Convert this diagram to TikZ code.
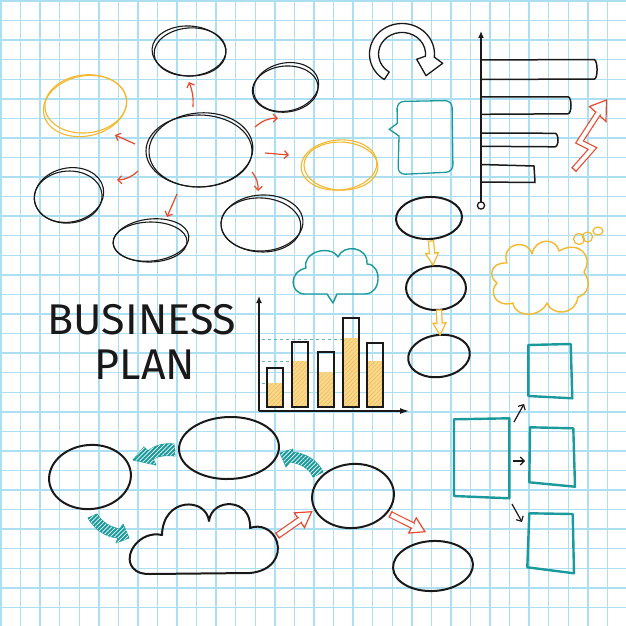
\documentclass[tikz,border=0pt]{standalone}
\usepackage{fontspec}
\setmainfont{Fira Sans}
\usetikzlibrary{calc,patterns,patterns.meta,arrows.meta,shapes.geometric}
\definecolor{gridc}{RGB}{172,223,241}
\definecolor{ink}{RGB}{25,25,25}
\definecolor{redc}{RGB}{234,72,44}
\definecolor{yel}{RGB}{244,184,46}
\definecolor{tealc}{RGB}{26,154,156}
\definecolor{barfill}{RGB}{249,216,140}
\definecolor{barhatch}{RGB}{236,188,86}
\newcommand\hollowarr[7]{%
  \coordinate (ha) at #2;
  \coordinate (hb) at #3;
  \coordinate (hc) at ($(hb)!#6!(ha)$);
  \filldraw[#1, fill=white, line join=miter] ($(hc)!#5!90:(ha)$) -- (hb) -- ($(hc)!#5!-90:(ha)$) -- cycle;
  \draw[#1, double=white, double distance=#4] (ha) -- ($(hc)!-1.2pt!(ha)$);
  \draw[#1] ($(ha)!#7!90:(hb)$) -- ($(ha)!#7!-90:(hb)$);
}
\begin{document}
\begin{tikzpicture}[x=1pt,y=-1pt,
  gridl/.style={draw=gridc, line width=1.4pt},
  sk/.style={draw=ink, line width=1.1pt},
  sky/.style={draw=yel, line width=1.1pt},
  skoval/.style={ellipse, draw=ink, line width=1.1pt, inner sep=0pt},
  oval/.style={ellipse, draw=ink, line width=2pt, inner sep=0pt},
  mmarr/.style={draw=redc, line width=1.2pt, -{Straight Barb[length=4pt,width=8pt]}},
  karr/.style={draw=ink, line width=1.2pt, -{Straight Barb[length=4pt,width=8pt]}},
  tbox/.style={draw=tealc, line width=2.4pt, line join=round},
  redhol/.style={draw=redc, line width=1.2pt},
  yelhol/.style={draw=yel, line width=1.2pt},
  hatchT/.style={fill=tealc, draw=tealc, line width=0.8pt, line join=round,
    postaction={pattern={Lines[angle=45,distance=3pt,line width=0.7pt]}, pattern color=white}},
  hbar/.style={draw=ink, line width=1.5pt, line join=round},
  vbar/.style={draw=ink, line width=1.5pt},
  dashl/.style={draw=tealc!70, line width=0.9pt, dash pattern=on 3pt off 3pt},
  title/.style={font=\fontsize{43}{43}\selectfont, text=ink, inner sep=0pt}
]
\useasboundingbox (0,0) rectangle (626,626);
\fill[white] (0,0) rectangle (626,626);
% grid
\foreach \k in {0,...,32}{
  \draw[gridl] ({1+19.5625*\k},0) -- ({1+19.5625*\k},626);
  \draw[gridl] (0,{1+19.5625*\k}) -- (626,{1+19.5625*\k});
}

% ===== mind map (top left) =====
\node[skoval, minimum width=106pt, minimum height=72pt] (m0) at (199,151) {};
\draw[sk, rotate around={4:(m0)}] ($(m0)+(2,-1)$) ellipse [x radius=52, y radius=37];
\node[skoval, minimum width=74pt, minimum height=50pt, rotate=-3] (m1) at (189,51) {};
\draw[sk, rotate around={4:(m1)}] ($(m1)+(1,1)$) ellipse [x radius=36, y radius=24];
\node[skoval, minimum width=66pt, minimum height=48pt, rotate=12] (m2) at (286,87) {};
\draw[sk, rotate around={6:(m2)}] ($(m2)+(-1,2)$) ellipse [x radius=33, y radius=23];
\node[skoval, draw=yel, minimum width=76pt, minimum height=50pt, rotate=5] (m3) at (339,165) {};
\draw[sky, rotate around={-2:(m3)}] ($(m3)+(2,1)$) ellipse [x radius=37, y radius=24];
\node[skoval, minimum width=82pt, minimum height=56pt, rotate=3] (m4) at (262,223) {};
\draw[sk, rotate around={-3:(m4)}] ($(m4)+(-1,2)$) ellipse [x radius=40, y radius=27];
\node[skoval, minimum width=76pt, minimum height=42pt, rotate=6] (m5) at (151,240) {};
\draw[sk, rotate around={1:(m5)}] ($(m5)+(-1,2)$) ellipse [x radius=37, y radius=20];
\node[skoval, minimum width=70pt, minimum height=54pt, rotate=12] (m6) at (69,195) {};
\draw[sk, rotate around={4:(m6)}] ($(m6)+(-1,2)$) ellipse [x radius=34, y radius=26];
\node[skoval, draw=yel, minimum width=84pt, minimum height=60pt, rotate=12] (m7) at (85,106) {};
\draw[sky, rotate around={6:(m7)}] ($(m7)+(1,-2)$) ellipse [x radius=41, y radius=29];

\coordinate (a1s) at (193,107); \coordinate (a1e) at (189,82);
\coordinate (a2s) at (255,127); \coordinate (a2e) at (278,118);
\coordinate (a3s) at (265,153); \coordinate (a3e) at (289,155);
\coordinate (a4s) at (252,172); \coordinate (a4e) at (258,191);
\coordinate (a5s) at (177,194); \coordinate (a5e) at (167,217);
\coordinate (a6s) at (138,171); \coordinate (a6e) at (117,180);
\coordinate (a7s) at (135,144); \coordinate (a7e) at (115,135);
\draw[mmarr] (a1s) to[bend right=12] (a1e);
\draw[mmarr] (a2s) to[bend left=20] (a2e);
\draw[mmarr] (a3s) -- (a3e);
\draw[mmarr] (a4s) to[bend left=20] (a4e);
\draw[mmarr] (a5s) -- (a5e);
\draw[mmarr] (a6s) to[bend left=20] (a6e);
\draw[mmarr] (a7s) -- (a7e);

% ===== curly arrow =====
\draw[draw=ink, line width=1.3pt, fill=white, line join=round]
  (402,54) ++(123:32.5 and 30.5)
  arc[start angle=123, end angle=366, x radius=32.5, y radius=30.5]
  -- (442.7,63.3) -- (426,75.7) -- (416.7,59.3)
  -- (425.4,56.2)
  arc[start angle=366, end angle=123, x radius=23.5, y radius=21.5]
  -- cycle;

% ===== speech bubble (teal) =====
\draw[draw=tealc, line width=1.3pt] (389.3,129.3) -- (397.3,123.3) [rounded corners=7] -- (397,101.5) -- (452,100.5) -- (453,172) -- (398,174.5) [sharp corners] -- (399,136) -- cycle;

% ===== horizontal bar chart =====
\coordinate (hax0) at (481,201.5);
\coordinate (hax1) at (481,31);
\draw[draw=ink, line width=1.3pt, -{Latex[length=7pt,width=6pt]}] (hax0) -- (hax1);
\draw[draw=ink, line width=1.3pt] (481,205.5) circle [radius=3.6];
\draw[hbar] (481,60) -- (594,59.5) .. controls (598,60) and (598,78.5) .. (594.5,79) -- (482,79.5);
\draw[hbar] (481,97) -- (568,96.8) .. controls (572,97) and (572,113.5) .. (568,113.8) -- (482,114.3);
\draw[hbar] (482,133) -- (555,133.3) .. controls (559,133.5) and (559,146.5) .. (555,146.8) -- (482,146.3);
\draw[hbar] (481,164.5) -- (534,166) -- (535,182.5) -- (482,182);

% ===== red zigzag arrow =====
\coordinate (z0) at (574,169.5);
\coordinate (z1) at (592.5,148.5);
\coordinate (z2) at (579.5,142);
\coordinate (z3) at (598.4,113);
\filldraw[redhol, fill=white, line join=miter] (589.5,106.5) -- (606.5,100) -- (606,121.5) -- cycle;
\draw[redhol, double=white, double distance=4pt, line join=miter] (z0) -- (z1) -- (z2) -- (z3);
\draw[redhol] ($(z0)!3.2pt!90:(z1)$) -- ($(z0)!3.2pt!-90:(z1)$);

% ===== middle column =====
\node[oval, minimum width=66pt, minimum height=42pt, rotate=3] (c1) at (429,218) {};
\node[oval, minimum width=60pt, minimum height=44pt] (c2) at (436,288) {};
\node[oval, minimum width=62pt, minimum height=42pt, rotate=8] (c3) at (439,356) {};
\coordinate (y1t) at (431,241); \coordinate (y1h) at (433,265);
\coordinate (y2t) at (439,310); \coordinate (y2h) at (440,335);
\hollowarr{yelhol}{(y1t)}{(y1h)}{4pt}{6.5pt}{12pt}{3.2pt}
\hollowarr{yelhol}{(y2t)}{(y2h)}{4pt}{6.5pt}{12pt}{3.2pt}

% ===== teal speech cloud =====
\draw[draw=tealc, line width=1.4pt, line join=round]
  (327,294) -- (305,294)
  .. controls (290,294) and (288,272) .. (306,268)
  .. controls (302,252) and (330,244) .. (338,257)
  .. controls (343,244) and (368,246) .. (367,264)
  .. controls (382,264) and (382,294) .. (365,294)
  -- (337,294) -- (333,303) -- cycle;

% ===== yellow thought cloud =====
\draw[draw=yel, line width=1.4pt, line join=round]
  (507,263)
  .. controls (500,243) and (528,238) .. (532,254)
  .. controls (535,238) and (556,237) .. (559,251)
  .. controls (578,240) and (594,255) .. (584,272)
  .. controls (592,283) and (588,294) .. (578,297)
  .. controls (575,316) and (552,316) .. (547,303)
  .. controls (540,318) and (515,318) .. (513,303)
  .. controls (496,308) and (488,292) .. (497,283)
  .. controls (488,277) and (490,262) .. (507,263) -- cycle;
\draw[draw=yel, line width=1.2pt] (579,239) circle [radius=5.5];
\draw[draw=yel, line width=1.2pt] (587.5,237) circle [radius=5];
\draw[draw=yel, line width=1.2pt] (598,231) ellipse [x radius=5, y radius=4];

% ===== vertical bar chart =====
\draw[dashl] (262,339) -- (343,339);
\draw[dashl] (262,361) -- (292,361);
\draw[dashl] (262,383) -- (267,383);
\foreach \xa/\xb/\top/\lev in {267/283/368/383, 292/308/342/361, 318/334/352/372, 343/359/318/338, 367/383/343/361}{
  \fill[barfill] (\xa,\lev) rectangle (\xb,407);
  \fill[pattern={Lines[angle=45,distance=3pt,line width=0.5pt]}, pattern color=barhatch] (\xa,\lev) rectangle (\xb,407);
  \draw[vbar] (\xa,\top) rectangle (\xb,407);
}
\coordinate (vo) at (259,411);
\coordinate (vy) at (259,296);
\coordinate (vx) at (409,411);
\draw[draw=ink, line width=1.3pt, -{Latex[length=7pt,width=6pt]}] (vo) -- (vy);
\draw[draw=ink, line width=1.3pt, -{Latex[length=9pt,width=6pt]}] (vo) -- (vx);

% ===== title =====
\node[title] (t1) at (142,320) {BUSINESS};
\node[title] (t2) at (145,365) {PLAN};

% ===== bottom flow =====
\node[oval, minimum width=82pt, minimum height=64pt, rotate=6] (b1) at (90,477) {};
\node[oval, minimum width=100pt, minimum height=62pt, rotate=2] (b2) at (229,448) {};
\node[oval, minimum width=82pt, minimum height=64pt, rotate=6] (b3) at (353,496) {};
\node[oval, minimum width=80pt, minimum height=50pt, rotate=3] (b4) at (433,566) {};
\draw[draw=ink, line width=2pt, line join=round] (150,574) -- (250,573)
  .. controls (272,571) and (281,556) .. (277,542)
  .. controls (273,529) and (260,524) .. (250,528)
  .. controls (252,498) and (212,497) .. (209,521)
  .. controls (206,497) and (163,497) .. (162,535)
  .. controls (140,530) and (122,555) .. (133,568)
  .. controls (137,573) and (143,574) .. (150,574) -- cycle;
% teal hatched arrows
\path[hatchT] (174,444) -- (175,456) .. controls (166,455) and (158,456) .. (153,459)
  -- (156,465) -- (133,460) -- (144,447) -- (148,451)
  .. controls (155,445) and (164,443) .. (174,444) -- cycle;
\path[hatchT] (323,472) -- (313,477) .. controls (310,469) and (300,463) .. (290,462)
  -- (286,467) -- (280,453) -- (293,449) -- (292,452)
  .. controls (306,453) and (318,461) .. (323,472) -- cycle;
\path[hatchT] (88,518) -- (97,514) .. controls (103,523) and (110,527) .. (120,529)
  -- (123,524) -- (129,538) -- (116,543) -- (118,538)
  .. controls (106,537) and (95,530) .. (88,518) -- cycle;
% red hollow arrows
\coordinate (r1t) at (277.5,535.5); \coordinate (r1h) at (311.7,511.7);
\coordinate (r2t) at (390.5,514.5); \coordinate (r2h) at (425,531.7);
\hollowarr{redhol}{(r1t)}{(r1h)}{4.5pt}{9pt}{15pt}{3.5pt}
\hollowarr{redhol}{(r2t)}{(r2h)}{4.5pt}{8.5pt}{14pt}{3.5pt}

% ===== teal boxes =====
\draw[tbox] (454,419.3) -- (509.3,418.3) -- (509.3,498.3) -- (454,496) -- cycle;
\draw[tbox] (528.3,345) -- (570.7,344) -- (572.3,398.3) -- (528.3,396) -- cycle;
\draw[tbox] (530,427.3) -- (573.3,428.3) -- (575,486.7) -- (529.3,482.3) -- cycle;
\draw[tbox] (529.3,513.3) -- (572.7,514) -- (574,573.3) -- (527.3,567.3) -- cycle;
\coordinate (k1s) at (514,422); \coordinate (k1e) at (524,404);
\coordinate (k2s) at (513,461); \coordinate (k2e) at (525,461);
\coordinate (k3s) at (512,504); \coordinate (k3e) at (522,522);
\draw[karr] (k1s) -- (k1e);
\draw[karr] (k2s) -- (k2e);
\draw[karr] (k3s) -- (k3e);
\end{tikzpicture}
\end{document}
